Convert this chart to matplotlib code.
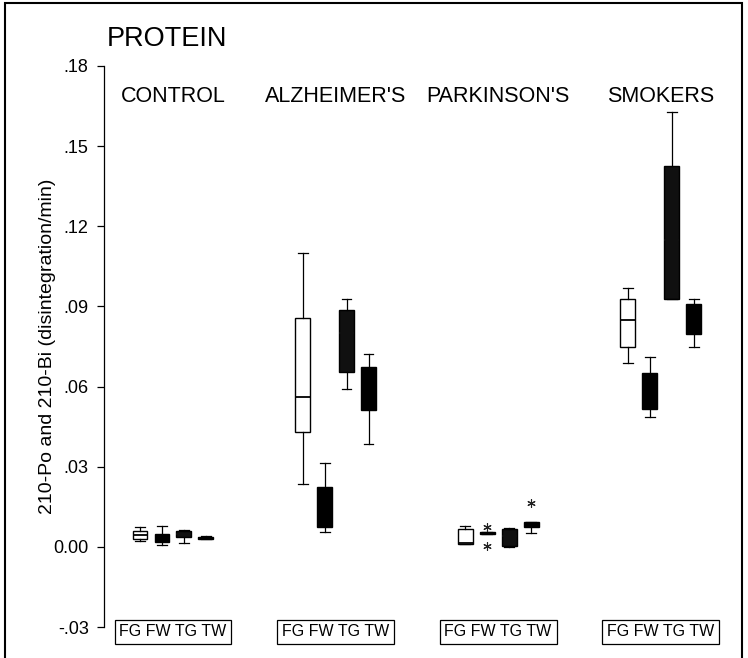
import matplotlib
matplotlib.use("Agg")
import matplotlib.pyplot as plt
from matplotlib.patches import Rectangle

# groups and tissues
groups = ["CONTROL", "ALZHEIMER'S", "PARKINSON'S", "SMOKERS"]
parts = ["FG", "FW", "TG", "TW"]
box_colors = ["white", "black", "#101010", "black"]

# per group: FG, FW, TG, TW
whis_low = [[.0022, .0008, .0015, .0028],
            [.0236, .0056, .0591, .0385],
            [.0012, .0048, .0001, .0052],
            [.0689, .0487, .0928, .0749]]
q1 = [[.0030, .0019, .0037, .0028],
      [.0430, .0075, .0655, .0513],
      [.0012, .0048, .0003, .0075],
      [.0749, .0516, .0928, .0797]]
median = [[.0045, .0035, .0050, .0032],
          [.0561, .0150, .0800, .0600],
          [.0015, .0052, .0040, .0085],
          [.0850, .0580, .1150, .0850]]
q3 = [[.0060, .0049, .0060, .0036],
      [.0857, .0225, .0887, .0674],
      [.0067, .0056, .0067, .0094],
      [.0928, .0651, .1426, .0909]]
whis_high = [[.0075, .0079, .0062, .0042],
             [.1100, .0314, .0928, .0722],
             [.0079, .0056, .0072, .0094],
             [.0969, .0711, .1628, .0928]]
outliers = [[[], [], [], []],
            [[], [], [], []],
            [[], [.0075, .0003], [], [.0165]],
            [[], [], [], []]]

font = ['Liberation Sans', 'DejaVu Sans']

fig = plt.figure(figsize=(7.48, 6.58), dpi=100)
ax = fig.add_axes([104 / 748, 0.0471, 616 / 748, 0.8526])

group_step = 7.4
centers = []
for g in range(len(groups)):
    for j in range(len(parts)):
        pos = g * group_step + j
        stats = [dict(whislo=whis_low[g][j], q1=q1[g][j], med=median[g][j],
                      q3=q3[g][j], whishi=whis_high[g][j], fliers=outliers[g][j])]
        # medians only show on the open (white) boxes
        med_col = 'black' if j == 0 else box_colors[j]
        ax.bxp(stats, positions=[pos], widths=0.68, capwidths=0.45,
               patch_artist=True, showfliers=True,
               boxprops=dict(facecolor=box_colors[j], edgecolor='black', linewidth=1),
               medianprops=dict(color=med_col, linewidth=1.3),
               whiskerprops=dict(color='black', linewidth=0.9),
               capprops=dict(color='black', linewidth=0.9),
               flierprops=dict(marker=(6, 2, 0), markersize=6, markeredgecolor='#222222',
                               markeredgewidth=0.8, linestyle='none'))
    centers.append(g * group_step + 1.5)

ax.set_xlim(-1.64, 26.4)
ax.set_ylim(-0.03, 0.18)
ax.set_yticks([-.03, 0, .03, .06, .09, .12, .15, .18])
ax.set_yticklabels(["-.03", "0.00", ".03", ".06", ".09", ".12", ".15", ".18"],
                   family=font, fontsize=13)
ax.tick_params(axis='y', direction='out', length=5, width=0.9, pad=6)
ax.set_xticks([])
for s in ['top', 'right', 'bottom']:
    ax.spines[s].set_visible(False)
ax.spines['left'].set_linewidth(0.9)

ax.set_ylabel("210-Po and 210-Bi (disintegration/min)", family=font, fontsize=14)
ax.yaxis.set_label_coords(-0.078, 0.5)

for c, name in zip(centers, groups):
    ax.text(c, 0.1684, name, ha='center', va='center', family=font, fontsize=15.5)
    ax.text(c, -0.0318, " ".join(parts), ha='center', va='center', family=font,
            fontsize=11.5, clip_on=False,
            bbox=dict(boxstyle='square,pad=0.3', facecolor='white', edgecolor='black',
                      linewidth=0.9))

fig.text(107 / 748, 1 - 46 / 658, "PROTEIN", family=font, fontsize=19.5,
         ha='left', va='baseline')

fig.add_artist(Rectangle((5 / 748, -0.02), 737 / 748, 1.0154, transform=fig.transFigure,
                         fill=False, edgecolor='black', linewidth=1.5))

fig.savefig("out.png", dpi=100)
